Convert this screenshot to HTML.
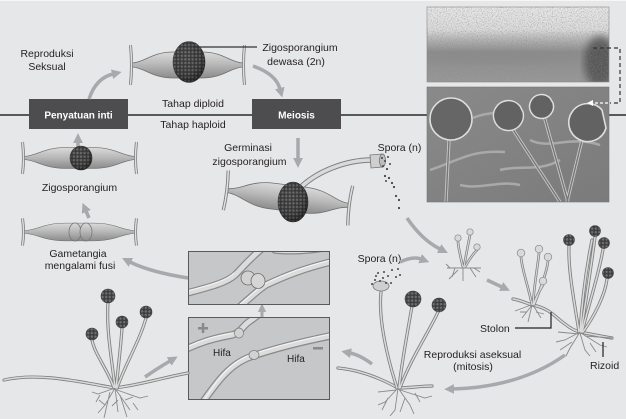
<!DOCTYPE html>
<html><head><meta charset="utf-8">
<style>
html,body{margin:0;padding:0;background:#e6e7e8;}
svg{display:block;}
text{font-family:"Liberation Sans",sans-serif;font-size:10.5px;fill:#231f20;}
.b{font-weight:bold;font-size:10px;fill:#ffffff;}
.arr{fill:none;stroke:#a7a9ac;stroke-width:3.5;marker-end:url(#ah);}
.to{fill:none;stroke:#7f7f7f;stroke-width:3.2;stroke-linecap:round;}
.ti{fill:none;stroke:#dadada;stroke-width:1.5;stroke-linecap:round;}
.rz{fill:none;stroke:#8a8a8a;stroke-width:0.9;}
.ho{fill:none;stroke:#8a8a8a;stroke-width:7.5;stroke-linecap:round;}
.hi{fill:none;stroke:#dcdcdc;stroke-width:5;stroke-linecap:round;}
.hh{fill:none;stroke:#f2f2f2;stroke-width:1.2;stroke-linecap:round;}
</style></head><body>
<svg width="626" height="419" viewBox="0 0 626 419" xmlns="http://www.w3.org/2000/svg" xmlns:xlink="http://www.w3.org/1999/xlink">
<defs>
<linearGradient id="bg" x1="0" y1="0" x2="0" y2="1"><stop offset="0" stop-color="#dadada"/><stop offset="0.45" stop-color="#bababa"/><stop offset="1" stop-color="#8b8b8b"/></linearGradient>
<linearGradient id="ph1" x1="0" y1="0" x2="0" y2="1"><stop offset="0" stop-color="#e8e8e8"/><stop offset="0.3" stop-color="#dcdcdc"/><stop offset="0.45" stop-color="#b0b0b0"/><stop offset="0.6" stop-color="#8c8c8c"/><stop offset="1" stop-color="#999999"/></linearGradient>
<linearGradient id="ph2" x1="0" y1="0" x2="1" y2="1"><stop offset="0" stop-color="#8a8a8a"/><stop offset="1" stop-color="#7a7a7a"/></linearGradient>
<radialGradient id="shade" cx="0.4" cy="0.35" r="0.65"><stop offset="0" stop-color="#000" stop-opacity="0"/><stop offset="0.7" stop-color="#000" stop-opacity="0.15"/><stop offset="1" stop-color="#000" stop-opacity="0.45"/></radialGradient>
<pattern id="dots" width="3.6" height="3.6" patternUnits="userSpaceOnUse"><rect width="3.6" height="3.6" fill="#3d3d3d"/><circle cx="1.8" cy="1.8" r="1.2" fill="#707070"/></pattern>
<marker id="ah" viewBox="0 0 10 10" refX="1" refY="5" markerWidth="2.8" markerHeight="2.8" orient="auto"><path d="M0,0 L10,5 L0,10 z" fill="#a7a9ac"/></marker>
<filter id="blur"><feGaussianBlur stdDeviation="4"/></filter>
<filter id="grain" x="0" y="0" width="100%" height="100%"><feTurbulence type="fractalNoise" baseFrequency="0.8" numOctaves="2" seed="5" result="n"/><feColorMatrix in="n" type="matrix" values="0 0 0 0 0.25  0 0 0 0 0.25  0 0 0 0 0.25  0 0 0 2.2 -1.0"/></filter>
<clipPath id="c1"><rect x="188.5" y="251.5" width="141" height="53"/></clipPath>
<clipPath id="c2"><rect x="188.5" y="317.5" width="141" height="82"/></clipPath>
<clipPath id="c3"><rect x="427" y="7" width="182" height="75"/></clipPath>
<clipPath id="c4"><rect x="427" y="87" width="182" height="115"/></clipPath>
<g id="zb">
 <path d="M-55,-2 C-42,-3 -36,-13 -14,-13 L14,-13 C36,-13 42,-3 55,-2 L55,2 C42,3 36,13 14,13 L-14,13 C-36,13 -42,3 -55,2 Z" fill="url(#bg)" stroke="#6e6e6e" stroke-width="0.8"/>
 <path d="M-57,-20 Q-55,0 -57,20 M57,-20 Q55,0 57,20" fill="none" stroke="#7c7c7c" stroke-width="3"/>
 <path d="M-57,-20 Q-55,0 -57,20 M57,-20 Q55,0 57,20" fill="none" stroke="#e0e0e0" stroke-width="1.4"/>
</g>
</defs>

<rect x="0" y="0" width="626" height="419" fill="#e6e7e8"/>
<rect x="0" y="0" width="626" height="1" fill="#f6f6f6"/>

<!-- main line -->
<line x1="0" y1="115" x2="626" y2="115" stroke="#58595b" stroke-width="2"/>
<rect x="29" y="99" width="99" height="30" fill="#4d4d4f"/>
<text class="b" x="78.5" y="118.5" text-anchor="middle">Penyatuan inti</text>
<rect x="252" y="99" width="89" height="30" fill="#4d4d4f"/>
<text class="b" x="296.5" y="118.5" text-anchor="middle">Meiosis</text>

<!-- labels top -->
<text x="47" y="57" text-anchor="middle">Reproduksi</text>
<text x="47" y="70" text-anchor="middle">Seksual</text>
<text x="300" y="51" text-anchor="middle">Zigosporangium</text>
<text x="296" y="65" text-anchor="middle">dewasa (2n)</text>
<text x="193" y="107" text-anchor="middle">Tahap diploid</text>
<text x="193" y="128" text-anchor="middle">Tahap haploid</text>
<text x="248" y="151" text-anchor="middle">Germinasi</text>
<text x="249.5" y="165" text-anchor="middle">zigosporangium</text>
<text x="399.5" y="151" text-anchor="middle">Spora (n)</text>
<text x="79.5" y="191" text-anchor="middle">Zigosporangium</text>
<text x="78" y="257" text-anchor="middle">Gametangia</text>
<text x="80" y="269" text-anchor="middle">mengalami fusi</text>
<text x="379.5" y="262" text-anchor="middle">Spora (n)</text>
<text x="480" y="332">Stolon</text>
<text x="472.5" y="358" text-anchor="middle">Reproduksi aseksual</text>
<text x="473" y="370" text-anchor="middle">(mitosis)</text>
<text x="590" y="369">Rizoid</text>

<!-- arrows (drawn before shapes so bodies cover the bases) -->
<path class="arr" d="M89,99 Q96,78 113,74"/>
<path class="arr" d="M253,66 Q276,74 280,89"/>
<path class="arr" d="M298,138 L298,159"/>
<path class="arr" d="M78,147 L78,142"/>
<path class="arr" d="M89,218 L86,211"/>
<path class="arr" d="M188,278 Q150,272 130,262"/>
<path class="arr" d="M145,377 Q158,368 170,361"/>
<path class="arr" d="M372,364 Q360,355 350,353"/>
<path class="arr" d="M565,355 Q520,387 453,389"/>
<path class="arr" d="M407,218 Q422,240 440,249"/>
<path class="arr" d="M400,262 Q413,256 421,259"/>
<path class="arr" d="M487,280 L502,287"/>
<path class="arr" d="M262,317 L262,311" style="stroke-width:3"/>

<!-- zygosporangia -->
<use xlink:href="#zb" transform="translate(187.5,65)"/>
<ellipse cx="189" cy="62" rx="16" ry="20.5" fill="url(#dots)" stroke="#3a3a3a" stroke-width="0.6"/>
<ellipse cx="189" cy="62" rx="16" ry="20.5" fill="url(#shade)"/>
<line x1="193" y1="47" x2="257" y2="47" stroke="#333" stroke-width="1.2"/>

<use xlink:href="#zb" transform="translate(79.5,158) scale(1,0.8)"/>
<ellipse cx="81" cy="158" rx="11" ry="12" fill="url(#dots)" stroke="#3a3a3a" stroke-width="0.6"/>
<ellipse cx="81" cy="158" rx="11" ry="12" fill="url(#shade)"/>

<use xlink:href="#zb" transform="translate(79.5,232) scale(1,0.68)"/>
<ellipse cx="75" cy="232" rx="6" ry="9" fill="url(#bg)" stroke="#777" stroke-width="0.8"/>
<ellipse cx="86" cy="232" rx="6" ry="9" fill="url(#bg)" stroke="#777" stroke-width="0.8"/>

<use xlink:href="#zb" transform="translate(288,198) rotate(7) scale(1.1,1)"/>
<path d="M298,190 C315,172 345,160 372,160" fill="none" stroke="#7f7f7f" stroke-width="5.5"/>
<path d="M298,190 C315,172 345,160 372,160" fill="none" stroke="#dadada" stroke-width="3.5"/>
<ellipse cx="293" cy="202" rx="15" ry="20" fill="url(#dots)" stroke="#3a3a3a" stroke-width="0.6"/>
<ellipse cx="293" cy="202" rx="15" ry="20" fill="url(#shade)"/>
<path d="M370,155 L382,154 L383,167 L371,168 Z" fill="#cfcfcf" stroke="#777" stroke-width="0.8"/>
<ellipse cx="382.5" cy="160.5" rx="3" ry="6.5" fill="#bdbdbd" stroke="#666" stroke-width="0.7"/>
<g fill="#444">
<circle cx="382" cy="158" r="1"/><circle cx="385" cy="161" r="1"/><circle cx="388" cy="157" r="1"/><circle cx="383" cy="166" r="1"/><circle cx="387" cy="169" r="1.1"/><circle cx="390" cy="164" r="1"/><circle cx="385" cy="176" r="1.1"/><circle cx="389" cy="178" r="1.1"/><circle cx="392" cy="183" r="1.1"/><circle cx="386" cy="181" r="1"/><circle cx="394" cy="187" r="1.1"/><circle cx="396" cy="196" r="1.1"/><circle cx="399" cy="200" r="1.1"/><circle cx="399" cy="208" r="1.1"/>
</g>

<!-- photos -->
<rect x="427" y="7" width="182" height="75" fill="url(#ph1)"/>
<g clip-path="url(#c3)">
<ellipse cx="600" cy="62" rx="16" ry="26" fill="#3f3f3f" opacity="0.7" filter="url(#blur)"/>
<ellipse cx="500" cy="58" rx="80" ry="6" fill="#8a8a8a" opacity="0.5" filter="url(#blur)"/>
<rect x="427" y="7" width="182" height="75" filter="url(#grain)" opacity="0.7"/>
</g>
<rect x="427" y="7" width="182" height="75" fill="none" stroke="#888" stroke-width="0.6"/>

<rect x="427" y="87" width="182" height="115" fill="url(#ph2)"/>
<g clip-path="url(#c4)" fill="none">
<rect x="427" y="87" width="182" height="115" filter="url(#grain)" opacity="0.35"/>
<path d="M430,170 C460,160 470,150 505,152 M500,170 C520,165 540,172 560,160 M460,185 C480,190 500,180 520,185 M530,140 C550,150 570,135 600,145 M473,118 C485,112 495,115 500,110" stroke="#a9a9a9" stroke-width="2.5"/>
<path d="M449,140 L446,202 M512,128 L560,202 M544,116 L568,202 M582,140 L567,202" stroke="#c8c8c8" stroke-width="3.2"/>
<path d="M449,140 L446,202 M512,128 L560,202 M544,116 L568,202 M582,140 L567,202" stroke="#767676" stroke-width="1.4"/>
<circle cx="451" cy="119" r="21" fill="#666666" stroke="#dedede" stroke-width="1.6"/>
<path d="M523,112 A15,15 0 1 1 520,106 Z" fill="#626262" stroke="#dedede" stroke-width="1.5"/>
<path d="M553,103 A12,12 0 1 1 550,98 Z" fill="#626262" stroke="#dedede" stroke-width="1.5"/>
<path d="M606,128 A19,19 0 1 1 602,110 Z" fill="#626262" stroke="#dedede" stroke-width="1.6"/>
<path d="M608,103 L592,103" stroke="#ffffff" stroke-width="1.2" stroke-dasharray="3,2"/>
<path d="M587,103 L593,100 L593,106 Z" fill="#ffffff"/>
</g>
<rect x="427" y="87" width="182" height="115" fill="none" stroke="#777" stroke-width="0.6"/>
<path d="M593,48 L620,48 L620,103 L610,103" fill="none" stroke="#333" stroke-width="1.2" stroke-dasharray="4,3"/>

<!-- hifa boxes -->
<rect x="188.5" y="251.5" width="141" height="53" fill="#c6c7c8"/>
<g clip-path="url(#c1)">
<path class="ho" d="M180,295 C205,288 225,284 235,275 C242,268 250,258 264,247"/>
<path class="ho" d="M236,310 C250,298 258,290 266,285 C285,276 305,268 335,261"/>
<path class="ho" d="M275,250 C295,252 315,250 335,246"/>
<path class="hi" d="M180,295 C205,288 225,284 235,275 C242,268 250,258 264,247"/>
<path class="hi" d="M236,310 C250,298 258,290 266,285 C285,276 305,268 335,261"/>
<path class="hi" d="M275,250 C295,252 315,250 335,246"/>
<path class="hh" d="M180,293 C205,286 225,282 234,273 M238,306 C250,296 258,288 266,283 C285,274 305,266 335,259"/>
<ellipse cx="248" cy="278" rx="7" ry="7" fill="#d2d2d2" stroke="#6f6f6f" stroke-width="0.8"/>
<ellipse cx="258" cy="281" rx="7" ry="7.5" fill="#d6d6d6" stroke="#6f6f6f" stroke-width="0.8"/>
</g>
<rect x="188.5" y="251.5" width="141" height="53" fill="none" stroke="#5a5a5a" stroke-width="1"/>

<rect x="188.5" y="317.5" width="141" height="82" fill="#c6c7c8"/>
<g clip-path="url(#c2)">
<path class="ho" d="M180,352 C200,342 215,338 232,335 C242,332 242,326 250,321 C254,318 257,316 262,312"/>
<path class="ho" d="M200,406 C215,385 228,365 250,357 C270,350 300,342 335,335"/>
<path class="hi" d="M180,352 C200,342 215,338 232,335 C242,332 242,326 250,321 C254,318 257,316 262,312"/>
<path class="hi" d="M200,406 C215,385 228,365 250,357 C270,350 300,342 335,335"/>
<path class="hh" d="M180,350 C200,340 215,336 232,333 M202,403 C215,383 228,363 250,355 C270,348 300,340 335,333"/>
<ellipse cx="239" cy="333" rx="4.5" ry="5" fill="#d2d2d2" stroke="#7a7a7a" stroke-width="0.7"/>
<ellipse cx="254" cy="355" rx="5" ry="4.5" fill="#d2d2d2" stroke="#7a7a7a" stroke-width="0.7"/>
<rect x="198" y="327" width="10" height="2.5" fill="#8a8a8a"/>
<rect x="201.8" y="323" width="2.5" height="10" fill="#8a8a8a"/>
<rect x="313" y="347" width="10" height="2.5" fill="#8a8a8a"/>
</g>
<rect x="188.5" y="317.5" width="141" height="82" fill="none" stroke="#5a5a5a" stroke-width="1"/>
<text x="213" y="356" style="font-size:10px">Hifa</text>
<text x="287" y="362" style="font-size:10px">Hifa</text>

<!-- bottom-left plant -->
<g>
<path class="to" d="M4,380 C40,372 80,382 115,388 C145,384 165,377 188,373"/>
<path class="ti" d="M4,380 C40,372 80,382 115,388 C145,384 165,377 188,373"/>
<path class="to" d="M115,388 C112,360 106,330 108,302 M116,388 C118,370 121,345 122,328 M117,388 C125,365 140,340 146,318 M114,388 C108,370 95,355 92,340"/>
<path class="ti" d="M115,388 C112,360 106,330 108,302 M116,388 C118,370 121,345 122,328 M117,388 C125,365 140,340 146,318 M114,388 C108,370 95,355 92,340"/>
<path class="rz" d="M115,388 L105,405 L98,413 M105,405 L99,400 M115,388 L118,412 M118,400 L112,406 M116,390 L130,410 M125,400 L133,397 M115,388 L98,394 L92,392 M117,390 L140,398 L148,396 M110,392 L104,418 M120,395 L127,417 M100,395 L96,402 M133,403 L138,410"/>
<circle cx="108" cy="296" r="7" fill="url(#dots)" stroke="#444" stroke-width="0.6"/>
<circle cx="122" cy="322" r="6" fill="url(#dots)" stroke="#444" stroke-width="0.6"/>
<circle cx="146" cy="312" r="6" fill="url(#dots)" stroke="#444" stroke-width="0.6"/>
<circle cx="92" cy="334" r="6" fill="url(#dots)" stroke="#444" stroke-width="0.6"/>
</g>

<!-- bottom-middle plant -->
<g>
<path class="to" d="M338,368 C360,370 380,378 398,388 C410,388 420,386 432,386"/>
<path class="ti" d="M338,368 C360,370 380,378 398,388 C410,388 420,386 432,386"/>
<path class="to" d="M397,388 C388,360 378,320 381,292 M399,388 C402,360 408,330 412,306 M400,388 C410,360 430,330 438,312"/>
<path class="ti" d="M397,388 C388,360 378,320 381,292 M399,388 C402,360 408,330 412,306 M400,388 C410,360 430,330 438,312"/>
<path class="rz" d="M398,388 L385,402 L378,405 M398,388 L395,410 L390,416 M398,388 L410,405 L414,414 M400,390 L425,398 L432,396 M396,390 L378,392 M405,398 L400,412 M388,398 L382,410 M415,393 L420,402"/>
<ellipse cx="381" cy="286" rx="8" ry="5" fill="#cfcfcf" stroke="#777" stroke-width="0.8"/>
<circle cx="413" cy="299" r="8" fill="url(#dots)" stroke="#444" stroke-width="0.6"/>
<circle cx="439" cy="305" r="7" fill="url(#dots)" stroke="#444" stroke-width="0.6"/>
<g fill="#444">
<circle cx="378" cy="273" r="1"/><circle cx="384" cy="272" r="1"/><circle cx="392" cy="270" r="1"/><circle cx="388" cy="276" r="1"/><circle cx="396" cy="277" r="1"/><circle cx="375" cy="280" r="1"/><circle cx="380" cy="281" r="1"/><circle cx="386" cy="283" r="1"/><circle cx="391" cy="283" r="1"/><circle cx="400" cy="275" r="1"/><circle cx="376" cy="276" r="1"/><circle cx="383" cy="278" r="1"/><circle cx="398" cy="269" r="1"/><circle cx="372" cy="284" r="1"/>
</g>
</g>

<!-- seedling -->
<g>
<path class="to" d="M463,267 C460,255 458,245 458,241 M464,267 C466,255 469,240 470,235 M465,267 C470,258 475,252 477,250" style="stroke-width:2.6"/>
<path class="ti" d="M463,267 C460,255 458,245 458,241 M464,267 C466,255 469,240 470,235 M465,267 C470,258 475,252 477,250" style="stroke-width:1.1"/>
<path class="rz" d="M447,268 L481,268 M455,268 L452,277 M463,268 L463,281 M470,268 L476,277 M458,270 L449,279 M474,268 L480,272 M450,268 L446,264"/>
<circle cx="458" cy="238" r="3.2" fill="#d9d9d9" stroke="#888" stroke-width="0.7"/>
<circle cx="470" cy="232" r="3.2" fill="#d9d9d9" stroke="#888" stroke-width="0.7"/>
<circle cx="477" cy="247" r="3.2" fill="#d9d9d9" stroke="#888" stroke-width="0.7"/>
</g>

<!-- right plants -->
<g>
<path class="to" d="M513,299 C520,300 526,303 532,305 C550,308 556,318 565,324 C570,328 575,331 580,332 C590,334 600,336 612,338"/>
<path class="ti" d="M513,299 C520,300 526,303 532,305 C550,308 556,318 565,324 C570,328 575,331 580,332 C590,334 600,336 612,338"/>
<path class="to" d="M532,305 C528,285 522,270 521,257 M533,305 C534,285 538,265 539,253 M534,305 C540,290 547,272 548,261 M533,305 C536,297 540,290 543,285" style="stroke-width:2.6"/>
<path class="ti" d="M532,305 C528,285 522,270 521,257 M533,305 C534,285 538,265 539,253 M534,305 C540,290 547,272 548,261 M533,305 C536,297 540,290 543,285" style="stroke-width:1.1"/>
<path class="rz" d="M532,305 L522,318 M532,305 L528,322 M533,305 L541,318 M531,305 L515,311 M527,312 L520,312 M536,312 L544,314"/>
<circle cx="521" cy="253" r="3.8" fill="#d9d9d9" stroke="#888" stroke-width="0.7"/>
<circle cx="539" cy="249" r="3.8" fill="#d9d9d9" stroke="#888" stroke-width="0.7"/>
<circle cx="548" cy="257" r="3.8" fill="#d9d9d9" stroke="#888" stroke-width="0.7"/>
<circle cx="543" cy="281" r="3.8" fill="#d9d9d9" stroke="#888" stroke-width="0.7"/>

<path class="to" d="M579,332 C574,300 568,270 569,246 M581,332 C586,300 592,260 595,237 M582,332 C590,300 600,270 603,249 M583,332 C595,315 605,295 607,279 M580,332 C582,300 586,270 592,240"/>
<path class="ti" d="M579,332 C574,300 568,270 569,246 M581,332 C586,300 592,260 595,237 M582,332 C590,300 600,270 603,249 M583,332 C595,315 605,295 607,279 M580,332 C582,300 586,270 592,240"/>
<path class="rz" d="M580,332 L565,340 L556,342 M580,332 L570,348 L566,356 M580,333 L585,350 L590,356 M581,333 L600,345 L607,347 M579,334 L558,332 M572,342 L560,350 M590,343 L596,352 M585,336 L612,338"/>
<circle cx="569" cy="240" r="5.5" fill="url(#dots)" stroke="#444" stroke-width="0.6"/>
<circle cx="595" cy="231" r="5.5" fill="url(#dots)" stroke="#444" stroke-width="0.6"/>
<circle cx="604" cy="243" r="5.5" fill="url(#dots)" stroke="#444" stroke-width="0.6"/>
<circle cx="608" cy="273" r="5.5" fill="url(#dots)" stroke="#444" stroke-width="0.6"/>
</g>
<polyline points="515,328 551,328 551,312" fill="none" stroke="#222" stroke-width="1.2"/>
<line x1="603" y1="342" x2="603" y2="357" stroke="#222" stroke-width="1.2"/>
</svg>
</body></html>
